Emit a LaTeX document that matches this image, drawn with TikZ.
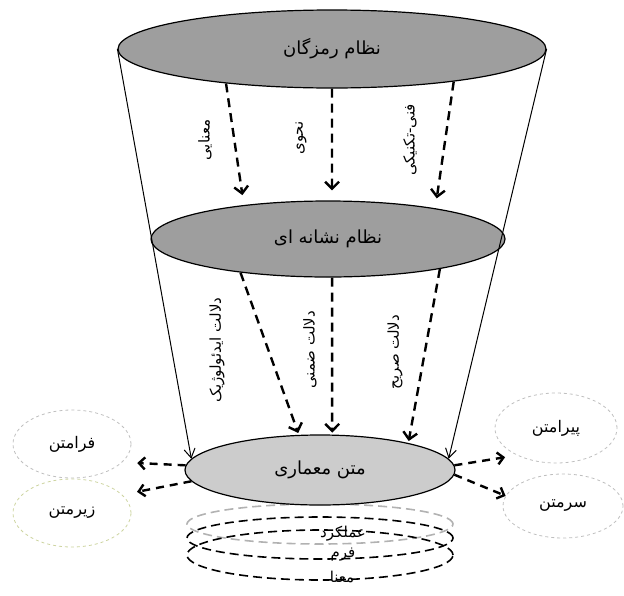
\documentclass[tikz,border=0pt]{standalone}
\usepackage{fontspec}
\newfontfamily\arabicfont[Script=Arabic]{DejaVu Sans}
\TeXXeTstate=1
\usetikzlibrary{shapes.geometric,arrows.meta}
\newcommand{\fa}[1]{\beginR #1\endR}
\begin{document}
\begin{tikzpicture}[x=1pt,y=-1pt,
  lev/.style={ellipse,draw,line width=1.2pt,inner sep=0pt,font=\arabicfont\fontsize{18}{20}\selectfont},
  side/.style={ellipse,draw=black!25,dashed,line width=0.8pt,minimum width=118,minimum height=68,font=\arabicfont\fontsize{16}{18}\selectfont},
  layer/.style={ellipse,line width=1.6pt,dash pattern=on 9pt off 5pt,minimum width=266,inner sep=0pt},
  dasharrow/.style={line width=2.4pt,dash pattern=on 9pt off 6pt,-{Straight Barb[length=7pt,width=14pt]}},
  sidearrow/.style={line width=2.4pt,dash pattern=on 8pt off 6pt,-{Straight Barb[length=6pt,width=12pt]}},
  lbl/.style={rotate=90,font=\arabicfont\fontsize{15}{17}\selectfont},
  txt/.style={font=\arabicfont\fontsize{15}{17}\selectfont}]
  \useasboundingbox (0,0) rectangle (624,595);
  \node[layer,draw=black!30,minimum height=40] (amal) at (320,524) {};
  \node[layer,draw=black,minimum height=42] (form) at (320,538) {};
  \node[layer,draw=black,minimum height=50] (mana) at (320,555) {};
  \node[txt] (amalt) at (343,534) {\fa{عملکرد}};
  \node[txt] (formt) at (343,555) {\fa{فرم}};
  \node[txt] (manat) at (342,577) {\fa{معنا}};
  \node[lev,fill=black!38,minimum width=428,minimum height=78] (top) at (332,49) {\fa{نظام رمزگان}};
  \node[lev,fill=black!38,minimum width=354,minimum height=76] (mid) at (328,239) {\fa{نظام نشانه ای}};
  \node[lev,fill=black!20,minimum width=270,minimum height=70] (bot) at (320,470) {\fa{متن معماری}};
  \node[side] (fara) at (72,444) {\fa{فرامتن}};
  \node[side,draw={rgb,255:red,205;green,212;blue,160}] (zir) at (72,513) {\fa{زیرمتن}};
  \node[side,minimum width=122,minimum height=70] (pira) at (556,428) {\fa{پیرامتن}};
  \node[side,minimum width=120,minimum height=64] (sar) at (563,506) {\fa{سرمتن}};
  \draw[line width=1pt,-{Straight Barb[length=9pt,width=11pt]}] (top.west) -- (bot.175);
  \draw[line width=1pt,-{Straight Barb[length=9pt,width=11pt]}] (top.east) -- (bot.5);
  \foreach \a/\b in {198/158,270/84,345/16}
    \draw[dasharrow,shorten >=10pt] (top.\a) -- (mid.\b);
  \foreach \a/\b in {201/121,276/71,345/17}
    \draw[dasharrow,shorten >=2pt] (mid.\a) -- (bot.\b);
  \draw[sidearrow,shorten >=15pt] (bot.178) -- (fara.340);
  \draw[sidearrow,shorten >=15pt] (bot.185) -- (zir.20);
  \draw[sidearrow,shorten >=12pt] (bot.2) -- (pira.215);
  \draw[sidearrow] (bot.358) -- (sar.170);
  \node[lbl] (semt) at (205,140) {\fa{معنایی}};
  \node[lbl] (naht) at (301,138) {\fa{نحوی}};
  \node[lbl] (fant) at (410,140) {\fa{فنی-تکنیکی}};
  \node[lbl] (ideo) at (217,350) {\fa{دلالت ایدئولوژیک}};
  \node[lbl] (zemn) at (310,350) {\fa{دلالت ضمنی}};
  \node[lbl] (sarih) at (395,352) {\fa{دلالت صریح}};
\end{tikzpicture}
\end{document}
